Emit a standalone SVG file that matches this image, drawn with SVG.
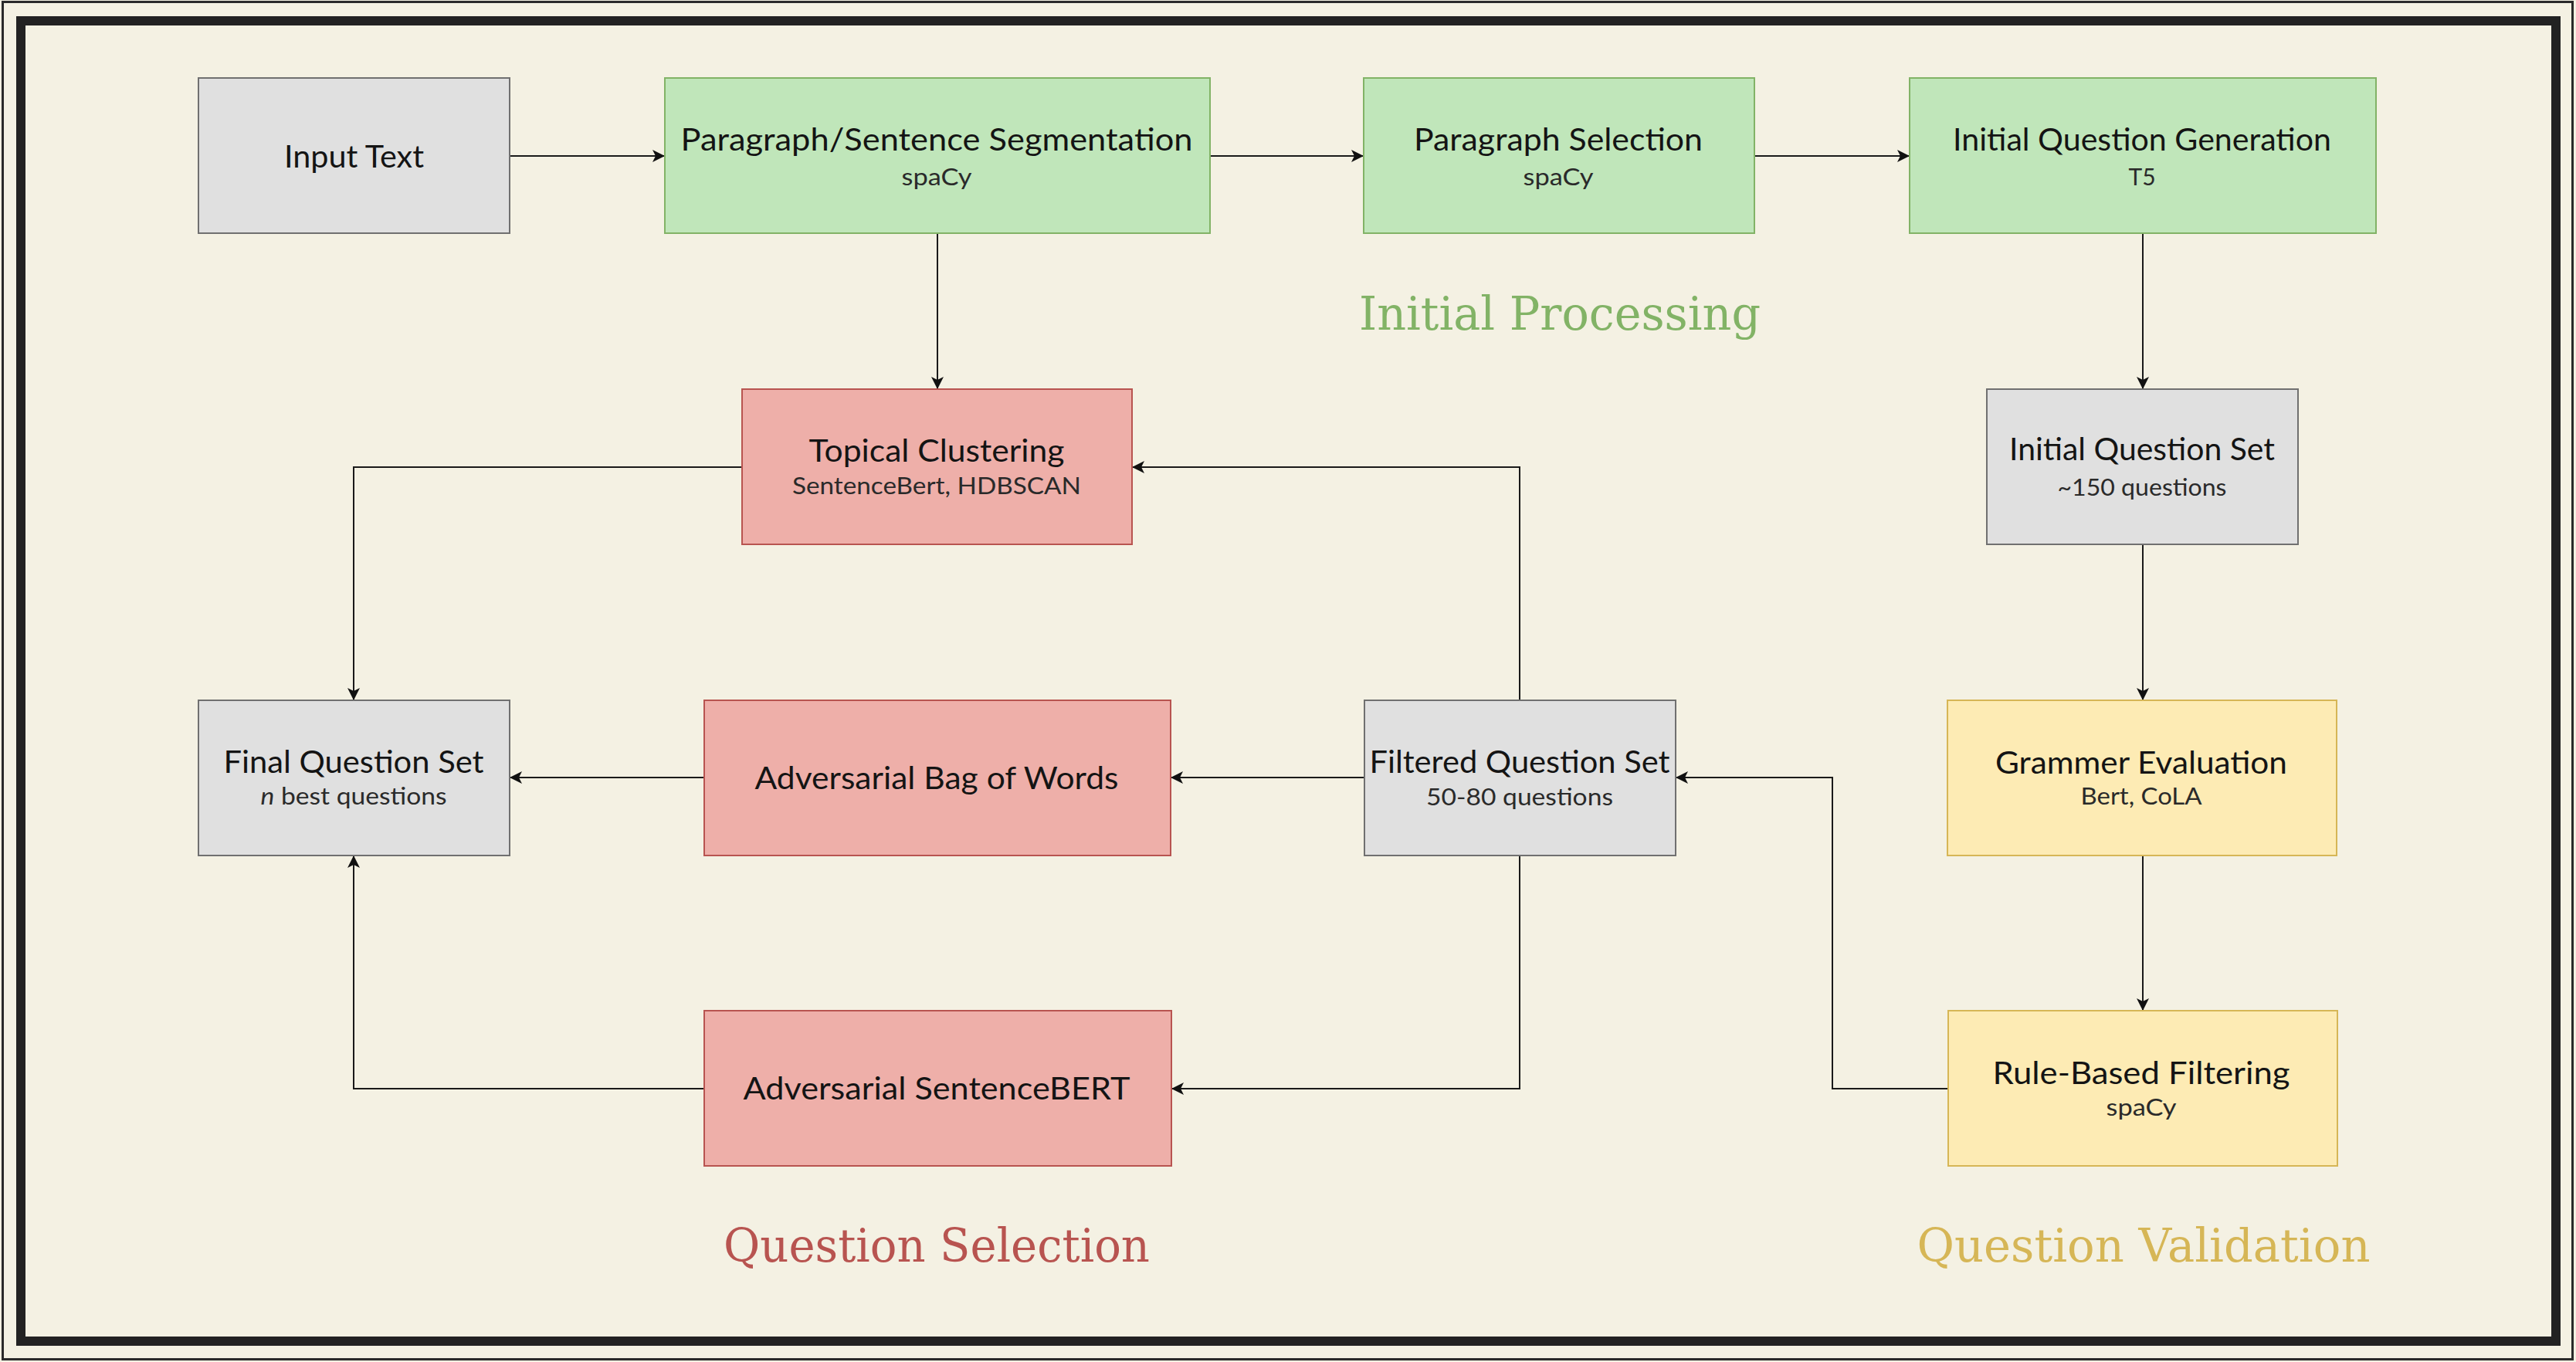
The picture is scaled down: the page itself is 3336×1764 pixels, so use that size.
<svg xmlns="http://www.w3.org/2000/svg" width="3336" height="1764" viewBox="0 0 3336 1764">
<defs>
<style>
.bg{fill:#f4f1e3}
.n rect{stroke-width:2}
.gray rect{fill:#e0e0e0;stroke:#707070}
.green rect{fill:#c0e6ba;stroke:#82b366}
.red rect{fill:#eeafa9;stroke:#b85450}
.yellow rect{fill:#fdebb4;stroke:#d6b656}
.t{font-family:Lato,"Open Sans","Liberation Sans",sans-serif;font-size:40px;fill:#141414;text-anchor:middle}
.s{font-family:Lato,"Open Sans","Liberation Sans",sans-serif;font-size:30px;fill:#2a2a2a;text-anchor:middle}
.h{font-family:"DejaVu Serif","Liberation Serif",serif;font-size:60px;text-anchor:middle}
.c path{fill:none;stroke:#1a1a1a;stroke-width:2;marker-end:url(#arr)}
</style>
<marker id="arr" markerUnits="userSpaceOnUse" viewBox="0 0 16 16" refX="16" refY="8" markerWidth="16" markerHeight="16" orient="auto">
<path d="M0,0 L16,8 L0,16 L4,8 Z" fill="#111"/>
</marker>
</defs>
<rect class="bg" x="0" y="0" width="3336" height="1764"/>
<rect x="3.5" y="2.5" width="3328" height="1758" fill="none" stroke="#2a2a2a" stroke-width="3"/>
<rect x="27" y="27" width="3283" height="1710" fill="none" stroke="#222" stroke-width="12"/>

<g id="connectors" class="c">
<path d="M660,202 H861"/>
<path d="M1567,202 H1766"/>
<path d="M2272,202 H2473"/>
<path d="M1214,303 V504"/>
<path d="M2775,302 V504"/>
<path d="M2775,705 V907"/>
<path d="M2775,1108 V1309"/>
<path d="M2523,1410 H2373 V1007 H2170"/>
<path d="M1767,1007 H1516"/>
<path d="M912,1007 H660"/>
<path d="M1968,907 V605 H1466"/>
<path d="M1968,1108 V1410 H1517"/>
<path d="M961,605 H458 V907"/>
<path d="M912,1410 H458 V1108"/>
</g>

<g id="input-text" class="n gray">
<rect x="257" y="101" width="403" height="201"/>
<text class="t" x="458.5" y="217" textLength="181" lengthAdjust="spacingAndGlyphs">Input Text</text>
</g>
<g id="para-seg" class="n green">
<rect x="861" y="101" width="706" height="201"/>
<text class="t" x="1213" y="195" textLength="663" lengthAdjust="spacingAndGlyphs">Paragraph/Sentence Segmentation</text>
<text class="s" x="1213" y="240" textLength="91" lengthAdjust="spacingAndGlyphs">spaCy</text>
</g>
<g id="para-sel" class="n green">
<rect x="1766" y="101" width="506" height="201"/>
<text class="t" x="2018" y="195" textLength="374" lengthAdjust="spacingAndGlyphs">Paragraph Selection</text>
<text class="s" x="2018" y="240" textLength="91" lengthAdjust="spacingAndGlyphs">spaCy</text>
</g>
<g id="iqg" class="n green">
<rect x="2473" y="101" width="604" height="201"/>
<text class="t" x="2774" y="195" textLength="490" lengthAdjust="spacingAndGlyphs">Initial Question Generation</text>
<text class="s" x="2774" y="240">T5</text>
</g>
<g id="iqs" class="n gray">
<rect x="2573" y="504" width="403" height="201"/>
<text class="t" x="2774" y="596" textLength="344" lengthAdjust="spacingAndGlyphs">Initial Question Set</text>
<text class="s" x="2774" y="642" textLength="219" lengthAdjust="spacingAndGlyphs">~150 questions</text>
</g>
<g id="topical" class="n red">
<rect x="961" y="504" width="505" height="201"/>
<text class="t" x="1213" y="598" textLength="331" lengthAdjust="spacingAndGlyphs">Topical Clustering</text>
<text class="s" x="1213" y="640" textLength="374" lengthAdjust="spacingAndGlyphs">SentenceBert, HDBSCAN</text>
</g>
<g id="final" class="n gray">
<rect x="257" y="907" width="403" height="201"/>
<text class="t" x="458" y="1001" textLength="337" lengthAdjust="spacingAndGlyphs">Final Question Set</text>
<text class="s" x="458" y="1042" textLength="241" lengthAdjust="spacingAndGlyphs"><tspan font-style="italic">n</tspan> best questions</text>
</g>
<g id="adv-bow" class="n red">
<rect x="912" y="907" width="604" height="201"/>
<text class="t" x="1213" y="1022" textLength="471" lengthAdjust="spacingAndGlyphs">Adversarial Bag of Words</text>
</g>
<g id="filtered" class="n gray">
<rect x="1767" y="907" width="403" height="201"/>
<text class="t" x="1968" y="1001" textLength="389" lengthAdjust="spacingAndGlyphs">Filtered Question Set</text>
<text class="s" x="1968" y="1043" textLength="242" lengthAdjust="spacingAndGlyphs">50-80 questions</text>
</g>
<g id="grammer" class="n yellow">
<rect x="2522" y="907" width="504" height="201"/>
<text class="t" x="2773" y="1002" textLength="378" lengthAdjust="spacingAndGlyphs">Grammer Evaluation</text>
<text class="s" x="2773" y="1042" textLength="157" lengthAdjust="spacingAndGlyphs">Bert, CoLA</text>
</g>
<g id="adv-sbert" class="n red">
<rect x="912" y="1309" width="605" height="201"/>
<text class="t" x="1213" y="1424" textLength="501" lengthAdjust="spacingAndGlyphs">Adversarial SentenceBERT</text>
</g>
<g id="rule" class="n yellow">
<rect x="2523" y="1309" width="504" height="201"/>
<text class="t" x="2773" y="1404" textLength="385" lengthAdjust="spacingAndGlyphs">Rule-Based Filtering</text>
<text class="s" x="2773" y="1445" textLength="91" lengthAdjust="spacingAndGlyphs">spaCy</text>
</g>

<g id="titles">
<text class="h" x="2020" y="427" fill="#82b366" textLength="520" lengthAdjust="spacingAndGlyphs">Initial Processing</text>
<text class="h" x="1213" y="1634" fill="#b85450" textLength="552" lengthAdjust="spacingAndGlyphs">Question Selection</text>
<text class="h" x="2776" y="1634" fill="#d6b656" textLength="587" lengthAdjust="spacingAndGlyphs">Question Validation</text>
</g>
</svg>
